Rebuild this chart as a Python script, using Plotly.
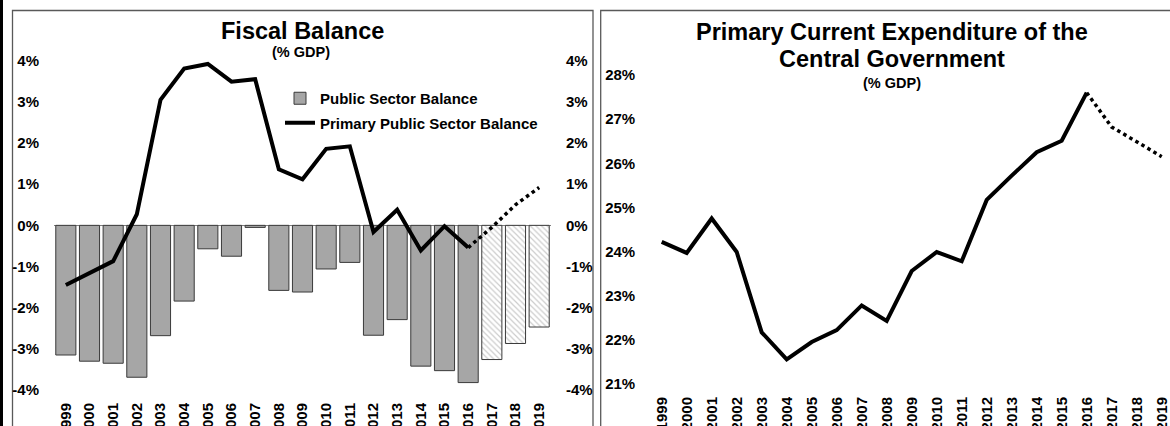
import plotly.graph_objects as go

# ---------------- data ----------------
years = [str(y) for y in range(1999, 2020)]
actual_years = years[:18]          # 1999-2016
forecast_years = years[18:]        # 2017-2019
dotted_years = years[17:]          # 2016-2019

public_balance = [-3.15, -3.30, -3.35, -3.69, -2.68, -1.84, -0.57, -0.75, -0.05,
                  -1.58, -1.62, -1.06, -0.90, -2.67, -2.29, -3.42, -3.53, -3.82]
public_balance_fc = [-3.26, -2.87, -2.47]

primary_balance = [-1.45, -1.15, -0.87, 0.27, 3.05, 3.81, 3.92, 3.49, 3.55,
                   1.36, 1.12, 1.86, 1.92, -0.16, 0.38, -0.61, -0.02, -0.54]
primary_balance_fc = [-0.54, -0.05, 0.50, 0.92]

expenditure = [24.22, 23.97, 24.75, 23.99, 22.17, 21.56, 21.95, 22.22, 22.78,
               22.43, 23.56, 23.99, 23.78, 25.17, 25.72, 26.25, 26.51, 27.60]
expenditure_fc = [27.60, 26.82, 26.49, 26.15]

left_tickvals = [-4, -3, -2, -1, 0, 1, 2, 3, 4]
left_ticktext = ["-4%", "-3%", "-2%", "-1%", "0%", "1%", "2%", "3%", "4%"]
right_tickvals = [21, 22, 23, 24, 25, 26, 27, 28]
right_ticktext = ["21%", "22%", "23%", "24%", "25%", "26%", "27%", "28%"]

# ---------------- geometry helpers ----------------
W, H = 1170, 426


def px(x):
    return x / W


def py(y):
    return (H - y) / H


FONT = "Liberation Sans, Arial, sans-serif"
tickfont = dict(family=FONT, size=15, color="black", weight="bold")

fig = go.Figure()

# Left panel: bars
fig.add_trace(go.Bar(
    x=actual_years, y=public_balance, name="Public Sector Balance",
    marker=dict(color="#A6A6A6", line=dict(color="#3a3a3a", width=1)),
    width=0.85, legendgroup="g1", xaxis="x", yaxis="y", hoverinfo="x+y"))
fig.add_trace(go.Bar(
    x=forecast_years, y=public_balance_fc, name="Public Sector Balance (f)",
    marker=dict(color="#9a9a9a", line=dict(color="#3a3a3a", width=1),
                pattern=dict(shape="\\", fgcolor="#9a9a9a", bgcolor="white",
                             size=4, solidity=0.3)),
    width=0.85, showlegend=False, xaxis="x", yaxis="y", hoverinfo="x+y"))

# Left panel: lines
fig.add_trace(go.Scatter(
    x=actual_years, y=primary_balance, name="Primary Public Sector Balance",
    mode="lines", line=dict(color="black", width=4), legendgroup="g2",
    xaxis="x", yaxis="y"))
fig.add_trace(go.Scatter(
    x=dotted_years, y=primary_balance_fc, mode="lines",
    line=dict(color="black", width=3.5, dash="dot"), showlegend=False,
    xaxis="x", yaxis="y"))

# dummy trace to activate the right-hand axis of left panel
fig.add_trace(go.Scatter(
    x=[years[0]], y=[0], mode="markers", opacity=0, showlegend=False,
    hoverinfo="skip", xaxis="x", yaxis="y2"))

# Right panel
fig.add_trace(go.Scatter(
    x=actual_years, y=expenditure, mode="lines",
    line=dict(color="black", width=4), showlegend=False,
    xaxis="x2", yaxis="y3"))
fig.add_trace(go.Scatter(
    x=dotted_years, y=expenditure_fc, mode="lines",
    line=dict(color="black", width=3.5, dash="dot"), showlegend=False,
    xaxis="x2", yaxis="y3"))

common_x = dict(type="category", categoryorder="array", categoryarray=years,
                tickangle=-90, tickfont=tickfont, ticks="outside", ticklen=6,
                tickcolor="rgba(0,0,0,0)", showline=False, showgrid=False,
                zeroline=False, automargin=False, fixedrange=True)

fig.update_layout(
    width=W, height=H,
    margin=dict(l=0, r=0, t=0, b=0),
    paper_bgcolor="white", plot_bgcolor="rgba(0,0,0,0)",
    barmode="overlay",
    showlegend=True,
    legend=dict(x=px(280), y=py(82), xanchor="left", yanchor="top",
                font=dict(family=FONT, size=15, color="black", weight="bold"),
                bgcolor="rgba(0,0,0,0)", traceorder="grouped",
                tracegroupgap=2),
    xaxis=dict(domain=[px(54), px(551)], range=[-0.5, 20.5], anchor="y",
               **common_x),
    yaxis=dict(domain=[py(390), py(60.7)], range=[-4, 4], anchor="x",
               tickvals=left_tickvals, ticktext=left_ticktext,
               tickfont=tickfont, ticks="outside", ticklen=11,
               tickcolor="rgba(0,0,0,0)", showgrid=False, showline=False,
               zeroline=True, zerolinecolor="#7f7f7f", zerolinewidth=1,
               automargin=False, fixedrange=True),
    yaxis2=dict(overlaying="y", side="right", anchor="x", range=[-4, 4],
                tickvals=left_tickvals, ticktext=left_ticktext,
                tickfont=tickfont, ticks="outside", ticklen=11,
                tickcolor="rgba(0,0,0,0)", showgrid=False, showline=False,
                zeroline=False, automargin=False, fixedrange=True),
    xaxis2=dict(domain=[px(649.2), 1.0], range=[-0.5, 20.5 - 4.2 / 25],
                anchor="y3", **common_x),
    yaxis3=dict(domain=[py(384), py(75)], range=[21, 28], anchor="x2",
                tickvals=right_tickvals, ticktext=right_ticktext,
                tickfont=tickfont, ticks="outside", ticklen=10,
                tickcolor="rgba(0,0,0,0)", showgrid=False, showline=False,
                zeroline=False, automargin=False, fixedrange=True),
)

title_font = dict(family=FONT, size=23.5, color="black", weight="bold")
sub_font = dict(family=FONT, size=14.5, color="black", weight="bold")
ann = [
    dict(text="Fiscal Balance", x=px(302.5), y=py(31), font=title_font),
    dict(text="(% GDP)", x=px(301), y=py(52), font=sub_font),
    dict(text="Primary Current Expenditure of the", x=px(891.5), y=py(32),
         font=title_font),
    dict(text="Central Government", x=px(891.5), y=py(58.5), font=title_font),
    dict(text="(% GDP)", x=px(891.7), y=py(83), font=sub_font),
]
for a in ann:
    fig.add_annotation(xref="paper", yref="paper", xanchor="center",
                       yanchor="middle", showarrow=False, **a)

# panel frames
fig.add_shape(type="rect", xref="paper", yref="paper", x0=0, x1=px(3),
              y0=-0.1, y1=1.1, fillcolor="black", line=dict(width=0),
              layer="above")
fig.add_shape(type="rect", xref="paper", yref="paper", x0=px(12.5),
              x1=px(593), y0=py(440), y1=py(10.5), fillcolor="rgba(0,0,0,0)",
              line=dict(color="#595959", width=1.3), layer="below")
fig.add_shape(type="rect", xref="paper", yref="paper", x0=px(600.7),
              x1=px(1185), y0=py(440), y1=py(10.5), fillcolor="rgba(0,0,0,0)",
              line=dict(color="#595959", width=1.3), layer="below")

fig.write_html("out.html",
               config={"displayModeBar": False},
               post_script="document.body.style.margin='0';"
                           "document.body.style.overflow='hidden';")
